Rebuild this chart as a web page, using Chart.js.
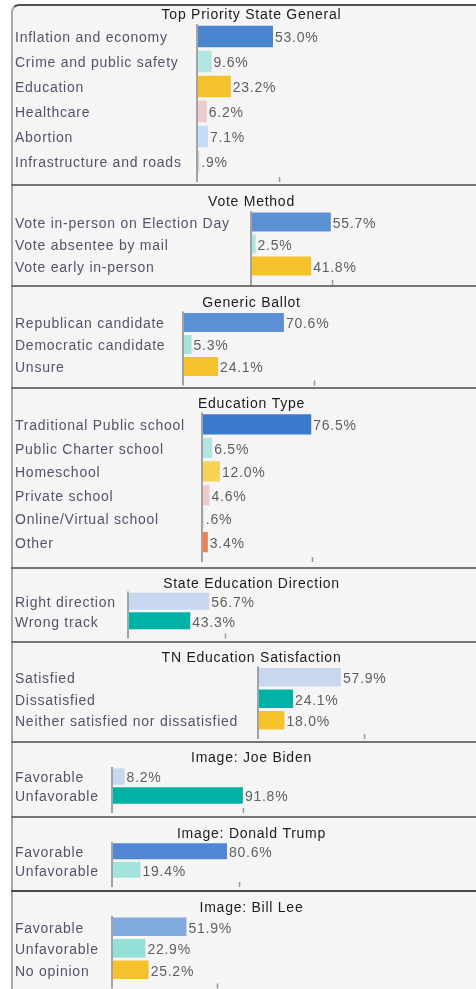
<!DOCTYPE html>
<html>
<head>
<meta charset="utf-8">
<script src="https://cdn.jsdelivr.net/npm/chart.js@4.4.1/dist/chart.umd.min.js"></script>
<style>
  html, body { margin: 0; padding: 0; background: #fff; overflow: hidden; width: 476px; height: 989px; }
  #frame { position: absolute; left: 11px; top: 4px; width: 520px; height: 1000px;
    border-top: 2px solid #505050; border-left: 2px solid #a8a8a8; border-top-left-radius: 8px;
    background: #f5f5f5; }
  .sep { position: absolute; left: 11px; width: 520px; height: 2px; background: #747474; }
  canvas { position: absolute; left: 13px; }
</style>
</head>
<body>
<div id="frame"></div>
<div id="holder"></div>
<script>
// data
var priorityLabels = ['Inflation and economy', 'Crime and public safety', 'Education', 'Healthcare', 'Abortion', 'Infrastructure and roads'];
var priorityValues = [53.0, 9.6, 23.2, 6.2, 7.1, 0.9];

var voteLabels = ['Vote in-person on Election Day', 'Vote absentee by mail', 'Vote early in-person'];
var voteValues = [55.7, 2.5, 41.8];

var ballotLabels = ['Republican candidate', 'Democratic candidate', 'Unsure'];
var ballotValues = [70.6, 5.3, 24.1];

var eduTypeLabels = ['Traditional Public school', 'Public Charter school', 'Homeschool', 'Private school', 'Online/Virtual school', 'Other'];
var eduTypeValues = [76.5, 6.5, 12.0, 4.6, 0.6, 3.4];

var directionLabels = ['Right direction', 'Wrong track'];
var directionValues = [56.7, 43.3];

var satisfactionLabels = ['Satisfied', 'Dissatisfied', 'Neither satisfied nor dissatisfied'];
var satisfactionValues = [57.9, 24.1, 18.0];

var bidenLabels = ['Favorable', 'Unfavorable'];
var bidenValues = [8.2, 91.8];

var trumpLabels = ['Favorable', 'Unfavorable'];
var trumpValues = [80.6, 19.4];

var leeLabels = ['Favorable', 'Unfavorable', 'No opinion'];
var leeValues = [51.9, 22.9, 25.2];

var titles = ['Top Priority State General', 'Vote Method', 'Generic Ballot', 'Education Type',
  'State Education Direction', 'TN Education Satisfaction', 'Image: Joe Biden', 'Image: Donald Trump', 'Image: Bill Lee'];
// the single axis tick each mini chart shows
var tickValues = [57.2, 56.5, 91.9, 77, 67.8, 74.2, 91.9, 89, 73.5];

// colours
var blue = '#4a86d0', teal = '#b2e7e1', gold = '#f4c32c', sky = '#c6d7ef', green = '#00b2a5';
var colors = [
  [blue, teal, gold, '#eecbcb', '#c4dcf8', '#d9cde0'],
  ['#5b90d4', '#a8e6e0', gold],
  ['#5b90d4', '#a4e2dc', gold],
  ['#3c7acb', teal, '#f6d255', '#efcaca', '#d6dff0', '#f0804c'],
  [sky, green],
  [sky, green, gold],
  [sky, green],
  ['#4f87d2', '#a2e3dd'],
  ['#80a9de', '#92e0d8', gold]
];

// layout of each panel (page pixels)
var panels = [
  {top: 4,   bottom: 184, titleY: 15,  areaTop: 24,    areaBottom: 174,   axisX: 198},
  {top: 184, bottom: 285, titleY: 202, areaTop: 211,   areaBottom: 277,   axisX: 252},
  {top: 285, bottom: 387, titleY: 303, areaTop: 311.5, areaBottom: 377.5, axisX: 184},
  {top: 387, bottom: 567, titleY: 404, areaTop: 412.5, areaBottom: 554,   axisX: 203},
  {top: 567, bottom: 641, titleY: 584, areaTop: 591.5, areaBottom: 630.5, axisX: 129},
  {top: 641, bottom: 741, titleY: 658, areaTop: 666.5, areaBottom: 731,   axisX: 259},
  {top: 741, bottom: 816, titleY: 758, areaTop: 767,   areaBottom: 805,   axisX: 113},
  {top: 816, bottom: 890, titleY: 834, areaTop: 842,   areaBottom: 879,   axisX: 113},
  {top: 890, bottom: 1000, titleY: 908, areaTop: 916,  areaBottom: 980.5, axisX: 113}
];
var labelSets = [priorityLabels, voteLabels, ballotLabels, eduTypeLabels, directionLabels, satisfactionLabels, bidenLabels, trumpLabels, leeLabels];
var valueSets = [priorityValues, voteValues, ballotValues, eduTypeValues, directionValues, satisfactionValues, bidenValues, trumpValues, leeValues];

var FONT = "'Liberation Sans', Arial, sans-serif";
var CANVAS_LEFT = 13, CANVAS_W = 475, PAD_L = 2, PX_PER_PCT = 1.415;

function fmt(v) {
  var s = v.toFixed(1) + '%';
  return s.charAt(0) === '0' ? s.substring(1) : s;
}

var spacing = {
  id: 'spacing',
  beforeDraw: function(chart) { chart.ctx.letterSpacing = '0.75px'; }
};

var axisMarks = {
  id: 'axisMarks',
  afterDatasetsDraw: function(chart, args, opts) {
    var ctx = chart.ctx, a = chart.chartArea;
    var x = chart.scales.x;
    ctx.save();
    ctx.strokeStyle = '#a3a3a3';
    ctx.lineWidth = 2;
    ctx.beginPath();
    ctx.moveTo(a.left - 1, a.top);
    ctx.lineTo(a.left - 1, a.bottom + 8);
    ctx.stroke();
    var tx = Math.round(x.getPixelForValue(opts.tick)) + 0.5;
    ctx.lineWidth = 1.5;
    ctx.strokeStyle = '#9a9a9a';
    ctx.beginPath();
    ctx.moveTo(tx, a.bottom + 3);
    ctx.lineTo(tx, a.bottom + 8);
    ctx.stroke();

    // value labels at the end of each bar
    ctx.font = '14px ' + FONT;
    ctx.fillStyle = '#5f5f5f';
    ctx.textAlign = 'left';
    ctx.textBaseline = 'middle';
    var meta = chart.getDatasetMeta(0);
    meta.data.forEach(function(bar, i) {
      ctx.fillText(fmt(chart.data.datasets[0].data[i]), bar.x + 2, bar.y + 2);
    });
    ctx.restore();
  }
};

var holder = document.getElementById('holder');
panels.forEach(function(p, i) {
  if (i > 0) {
    var sep = document.createElement('div');
    sep.className = 'sep';
    sep.style.top = p.top + 'px';
    if (i === 8) sep.style.background = '#4a4a4a';
    holder.appendChild(sep);
  }
  var cTop = p.top + 2, cH = p.bottom - p.top - 2;
  var cv = document.createElement('canvas');
  cv.width = CANVAS_W;
  cv.height = cH;
  cv.style.top = cTop + 'px';
  holder.appendChild(cv);

  var padTop = p.titleY - cTop - 7;
  var padBottom = p.areaTop - cTop - padTop - 14;
  var yWidth = p.axisX - CANVAS_LEFT - PAD_L;
  var xMax = (CANVAS_LEFT + CANVAS_W - p.axisX) / PX_PER_PCT;

  new Chart(cv, {
    type: 'bar',
    data: {
      labels: labelSets[i],
      datasets: [{
        data: valueSets[i],
        backgroundColor: colors[i],
        barPercentage: 0.86,
        categoryPercentage: 1
      }]
    },
    options: {
      indexAxis: 'y',
      responsive: false,
      animation: false,
      layout: { padding: { left: PAD_L, right: 0, top: 0, bottom: cTop + cH - p.areaBottom } },
      plugins: {
        legend: { display: false },
        tooltip: { enabled: false },
        title: {
          display: true,
          text: titles[i],
          color: '#1c1c1c',
          font: { family: FONT, size: 14, weight: 'normal', lineHeight: 1 },
          padding: { top: padTop, bottom: padBottom }
        },
        axisMarks: { tick: tickValues[i] }
      },
      scales: {
        x: { display: false, min: 0, max: xMax },
        y: {
          grid: { display: false },
          border: { display: false },
          ticks: {
            autoSkip: false,
            crossAlign: 'far',
            padding: 0,
            labelOffset: 2,
            color: '#55536a',
            font: { family: FONT, size: 14, lineHeight: 1.2 }
          },
          afterFit: function(scale) {
            scale.width = yWidth;
            scale.paddingTop = 0;
            scale.paddingBottom = 0;
          }
        }
      }
    },
    plugins: [spacing, axisMarks]
  });
});
</script>
</body>
</html>
